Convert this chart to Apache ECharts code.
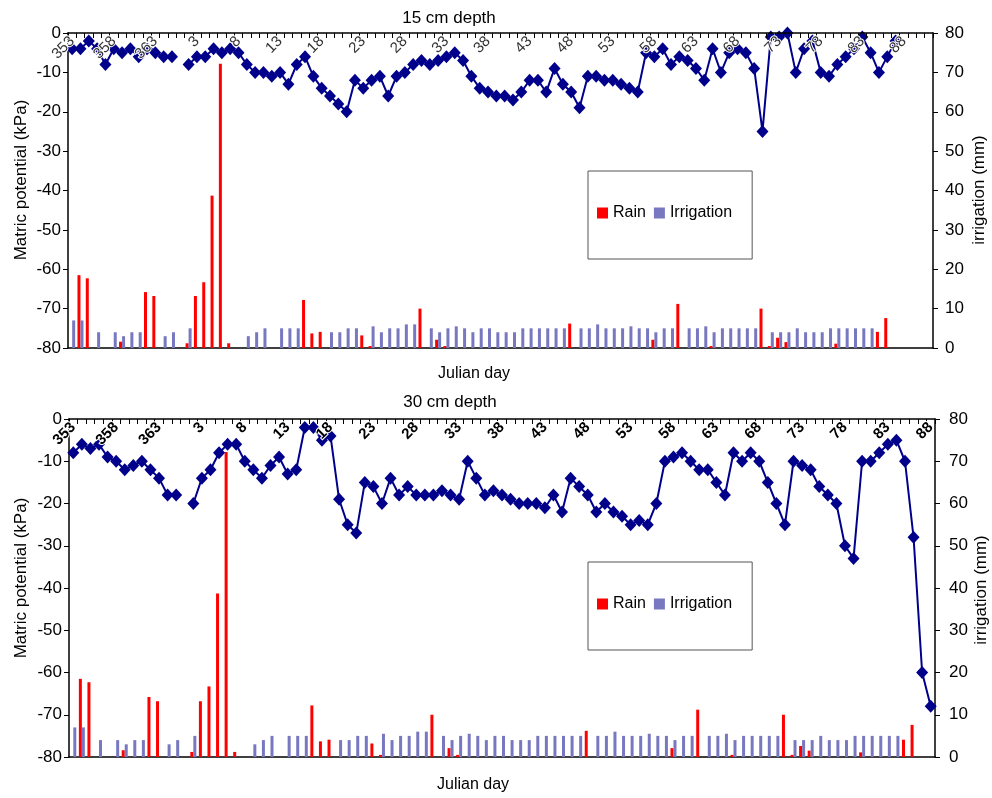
<!DOCTYPE html>
<html>
<head>
<meta charset="utf-8">
<script src="https://cdn.jsdelivr.net/npm/echarts@6/dist/echarts.min.js"></script>
<style>
  html, body { margin: 0; padding: 0; background: #fff; }
  #chart { width: 992px; height: 798px; }
</style>
</head>
<body>
<div id="chart"></div>
<script>
// Julian days, 19 December to 28 March
const dayLabels = [
  '353','354','355','356','357','358','359','360','361','362','363','364','365',
  '1','2','3','4','5','6','7','8','9','10',
  '11','12','13','14','15','16','17','18','19','20',
  '21','22','23','24','25','26','27','28','29','30',
  '31','32','33','34','35','36','37','38','39','40',
  '41','42','43','44','45','46','47','48','49','50',
  '51','52','53','54','55','56','57','58','59','60',
  '61','62','63','64','65','66','67','68','69','70',
  '71','72','73','74','75','76','77','78','79','80',
  '81','82','83','84','85','86','87','88'
];
// the 15 cm panel's axis runs a few days further
const extraDays = ['89','90','91'];

// daily rain (mm)
const rain = [
  null,18.5,17.7,null,null,null,1.6,null,null,14.2,13.2,null,null,
  null,1.2,13.2,16.7,38.7,72.2,1.2,null,null,null,
  null,null,null,null,null,12.2,3.7,4.1,null,null,
  null,null,3.2,0.5,null,null,null,null,null,10,
  null,2.1,0.5,null,null,null,null,null,null,null,
  null,null,null,null,null,null,null,6.2,null,null,
  null,null,null,null,null,null,null,2.1,null,null,
  11.2,null,null,null,0.5,null,null,null,null,null,
  10,0.5,2.6,1.5,null,null,null,null,null,1.1,
  null,null,null,null,4.1,7.6,null,null
];

// daily irrigation (mm)
const irrigation = [
  7,7,null,4,null,4,3,4,4,null,null,3,4,
  null,5,null,null,null,null,null,null,3,4,
  5,null,5,5,5,null,null,null,4,4,
  5,5,null,5.5,4,5,5,6,6,null,
  5,4,5,5.5,5,4,5,5,4,4,
  4,5,5,5,5,5,5,null,5,5,
  6,5,5,5,5.5,5,5,4,5,5,
  null,5,5,5.5,4,5,5,5,5,5,
  null,4,4,4,5,4,4,4,5,5,
  5,5,5,5,null,null,null,null
];

// matric potential at 15 cm (kPa)
const matric15 = [
  -4,-4,-2,-4,-8,-4,-5,-4,-6,-4,-5,-6,-6,
  null,-8,-6,-6,-4,-5,-4,-5,-8,-10,
  -10,-11,-10,-13,-8,-6,-11,-14,-16,-18,
  -20,-12,-14,-12,-11,-16,-11,-10,-8,-7,
  -8,-7,-6,-5,-7,-11,-14,-15,-16,-16,
  -17,-15,-12,-12,-15,-9,-13,-15,-19,-11,
  -11,-12,-12,-13,-14,-15,-5,-6,-4,-8,
  -6,-7,-9,-12,-4,-10,-5,-4,-5,-9,
  -25,-1,-1,0,-10,-4,-2,-10,-11,-8,
  -6,-4,-1,-5,-10,-6,-2,null
];

// matric potential at 30 cm (kPa)
const matric30 = [
  -8,-6,-7,-6,-9,-10,-12,-11,-10,-12,-14,-18,-18,
  null,-20,-14,-12,-8,-6,-6,-10,-12,-14,
  -11,-9,-13,-12,-2,-2,-5,-4,-19,-25,
  -27,-15,-16,-20,-14,-18,-16,-18,-18,-18,
  -17,-18,-19,-10,-14,-18,-17,-18,-19,-20,
  -20,-20,-21,-18,-22,-14,-16,-18,-22,-20,
  -22,-23,-25,-24,-25,-20,-10,-9,-8,-10,
  -12,-12,-15,-18,-8,-10,-8,-10,-15,-20,
  -25,-10,-11,-12,-16,-18,-20,-30,-33,-10,
  -10,-8,-6,-5,-10,-28,-60,-68
];

const potentialTicks = { min: -80, max: 0, interval: 10 };
const depthTicks = { min: 0, max: 80, interval: 10 };

const FONT = "'Liberation Sans', Arial, sans-serif";
const INK = '#000';
const LINE_BLUE = '#00008b';
const RAIN_RED = '#ff0000';
const IRRIG_BLUE = '#7878c0';

const chart = echarts.init(document.getElementById('chart'), null, { renderer: 'canvas' });

const topDays = dayLabels.concat(extraDays);

// day axis along the 0 kPa edge, labels rotated inside the plot and drawn over the line
function dayAxis(gridIndex, data, labelStyle) {
  return {
    gridIndex, type: 'category', data, position: 'top', boundaryGap: true, z: 10,
    axisLine: { onZero: false, lineStyle: { color: INK, width: 1.5 } },
    axisTick: { show: true, inside: true, interval: 0, length: 5, lineStyle: { color: INK, width: 1 } },
    axisLabel: Object.assign({
      inside: true, rotate: -45, interval: 4, margin: 6, fontSize: 15, fontFamily: FONT,
      textBorderColor: '#fff', textBorderWidth: 2
    }, labelStyle),
    splitLine: { show: false }
  };
}
// plain base line under the columns
function baseAxis(gridIndex, data) {
  return {
    gridIndex, type: 'category', data, position: 'bottom', boundaryGap: true,
    axisLine: { onZero: false, lineStyle: { color: INK, width: 1.5 } },
    axisTick: { show: false }, axisLabel: { show: false }, splitLine: { show: false }
  };
}
function valueAxis(gridIndex, ticks, position, margin) {
  return {
    gridIndex, type: 'value', position, min: ticks.min, max: ticks.max, interval: ticks.interval,
    axisLine: { show: true, onZero: false, lineStyle: { color: INK, width: 1.5 } },
    axisTick: { show: true, length: 5, lineStyle: { color: INK, width: 1 } },
    axisLabel: { fontSize: 17, color: INK, fontFamily: FONT, margin },
    splitLine: { show: false }
  };
}
function barSeries(name, data, color, xi, yi) {
  return { name, type: 'bar', xAxisIndex: xi, yAxisIndex: yi, data, barWidth: 3, barGap: '0%',
           itemStyle: { color }, emphasis: { disabled: true }, z: 2 };
}
function lineSeries(name, data, xi, yi) {
  return { name, type: 'line', xAxisIndex: xi, yAxisIndex: yi, data, connectNulls: false,
           symbol: 'diamond', symbolSize: [12, 13], showSymbol: true, showAllSymbol: true,
           lineStyle: { color: LINE_BLUE, width: 2 }, itemStyle: { color: LINE_BLUE },
           emphasis: { disabled: true }, z: 5, animation: false };
}
function legendBox(top) {
  return {
    data: ['Rain', 'Irrigation'], left: 588, top, orient: 'horizontal', icon: 'rect',
    itemWidth: 11, itemHeight: 11, itemGap: 8, borderColor: '#555', borderWidth: 1,
    padding: [34, 20, 38, 9], backgroundColor: '#fff',
    textStyle: { fontSize: 16, color: INK, fontFamily: FONT }, selectedMode: false
  };
}
function label(text, x, y, rotated, size) {
  return { type: 'text', x, y, rotation: rotated ? Math.PI / 2 : 0, z: 10,
           style: { text, fill: INK, fontSize: size || 16, fontFamily: FONT, align: 'center', verticalAlign: 'middle' } };
}

chart.setOption({
  animation: false,
  backgroundColor: '#fff',
  grid: [
    { left: 68, top: 33, width: 865, height: 315, containLabel: false },
    { left: 69, top: 419, width: 866, height: 338, containLabel: false }
  ],
  xAxis: [
    dayAxis(0, topDays, { color: '#333' }),
    baseAxis(0, topDays),
    dayAxis(1, dayLabels, { color: INK, fontWeight: 'bold' }),
    baseAxis(1, dayLabels)
  ],
  yAxis: [
    valueAxis(0, potentialTicks, 'left', 7),
    valueAxis(0, depthTicks, 'right', 12),
    valueAxis(1, potentialTicks, 'left', 7),
    valueAxis(1, depthTicks, 'right', 14)
  ],
  legend: [legendBox(171), legendBox(562)],
  series: [
    barSeries('Rain', rain, RAIN_RED, 1, 1),
    barSeries('Irrigation', irrigation, IRRIG_BLUE, 1, 1),
    lineSeries('15 cm depth', matric15, 0, 0),
    barSeries('Rain', rain, RAIN_RED, 3, 3),
    barSeries('Irrigation', irrigation, IRRIG_BLUE, 3, 3),
    lineSeries('30 cm depth', matric30, 2, 2)
  ],
  graphic: [
    label('15 cm depth', 449, 18, false, 17),
    label('30 cm depth', 450, 402, false, 17),
    label('Julian day', 474, 374),
    label('Julian day', 473, 785),
    label('Matric potential (kPa)', 21, 180, true, 17),
    label('Matric potential (kPa)', 21, 578, true, 17),
    label('irrigation (mm)', 979, 190, true, 17),
    label('irrigation (mm)', 981, 590, true, 17)
  ]
});
</script>
</body>
</html>
